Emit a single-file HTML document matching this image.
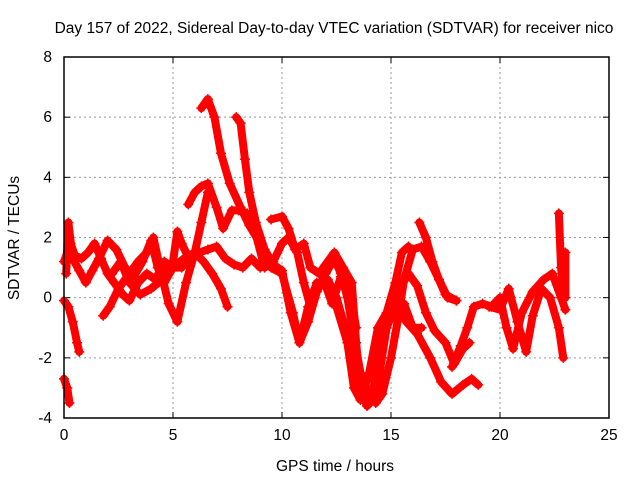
<!DOCTYPE html>
<html><head><meta charset="utf-8"><style>
body{margin:0;background:#fff}
svg{display:block;font-family:"Liberation Sans",sans-serif}
</style></head><body>
<svg id="chart" width="640" height="480">
<text x="334" y="33" font-size="15.5" text-anchor="middle">Day 157 of 2022, Sidereal Day-to-day VTEC variation (SDTVAR) for receiver nico</text>
<text x="335" y="471" font-size="15.5" text-anchor="middle">GPS time / hours</text>
<text transform="translate(19,238) rotate(-90)" font-size="15.5" text-anchor="middle">SDTVAR / TECUs</text>
<g id="grid"></g><g id="ticks"></g><g id="series"></g>
<rect x="64" y="57" width="545" height="361" fill="none" stroke="#000" stroke-width="1.5"/>
</svg>
<script>
const xTicks=[0,5,10,15,20,25];
const yTicks=[-4,-2,0,2,4,6,8];
const track1=[[0,-0.1],[0.2,-0.3],[0.4,-0.8],[0.6,-1.5],[0.7,-1.8]];
const track2=[[0,-2.7],[0.15,-3.0],[0.25,-3.5]];
const track3=[[6.3,6.3],[6.6,6.6],[6.9,6.0],[7.2,4.8],[7.6,3.8],[8.1,3.0],[8.5,2.4],[9.0,1.8],[9.5,1.0],[10.0,0.8],[10.5,-0.5],[10.8,-1.5],[11.2,-0.8],[11.6,0.2],[12.0,0.8],[12.4,1.3],[12.7,0.8],[13.0,0.0],[13.3,-1.3],[13.6,-2.5],[14.0,-3.2],[14.3,-3.5],[14.6,-3.2],[15.0,-2.0],[15.3,-0.8],[15.6,0.6],[16.0,1.6],[16.4,1.7],[16.8,1.2],[17.2,0.6],[17.6,0.0],[18.0,-0.1]];
const track4=[[7.9,6.0],[8.1,5.8],[8.3,4.6],[8.5,3.5],[8.8,2.5],[9.2,1.6],[9.6,1.1],[10.0,0.9],[10.4,-0.5],[10.8,-1.5],[11.2,-0.3],[11.6,0.5],[12.0,0.4],[12.3,-0.2],[12.7,0.7],[13.1,0.3],[13.4,-1.0]];
const track5=[[5.7,3.1],[6.0,3.5],[6.3,3.7],[6.6,3.8],[7.0,3.0],[7.3,2.3],[7.7,2.9],[8.0,2.9],[8.4,2.8],[8.8,2.1],[9.2,1.0],[9.6,1.2],[10.0,1.8],[10.3,2.0],[10.7,1.5],[11.0,0.5],[11.3,-0.3],[11.7,0.4],[12.1,0.6],[12.5,0.0],[12.9,-1.0],[13.2,-2.0],[13.5,-3.0],[13.8,-3.4],[14.2,-3.0],[14.6,-1.2],[15.0,-0.5],[15.4,0.3],[15.8,0.8],[16.2,0.4],[16.6,-0.5],[17.0,-1.1],[17.5,-1.5],[17.9,-2.2],[18.3,-1.7],[18.6,-1.5]];
const track6=[[0,1.2],[0.3,1.8],[0.5,1.4],[0.8,1.3],[1.1,1.5],[1.4,1.8],[1.7,1.3],[2.0,0.8],[2.3,0.5],[2.7,0.1],[3.0,-0.1],[3.4,0.5],[3.8,0.8],[4.2,0.6],[4.6,1.2],[5.0,1.0],[5.4,1.0],[5.8,1.4],[6.2,1.5],[6.6,1.6],[7.0,1.7],[7.4,1.3],[7.8,1.1],[8.2,1.0],[8.6,1.3],[9.0,1.0]];
const track7=[[0.1,0.8],[0.2,2.5],[0.4,1.3],[0.7,0.9],[1.0,0.5],[1.3,0.9],[1.6,1.3],[2.0,1.9],[2.4,1.6],[2.8,1.0],[3.2,0.7],[3.6,1.2],[4.0,1.9],[4.3,1.0],[4.6,0.5],[5.0,1.0],[5.5,1.3],[6.0,1.5],[6.4,1.2],[6.8,0.8],[7.2,0.3],[7.5,-0.3]];
const track8=[[1.8,-0.6],[2.1,-0.3],[2.5,0.3],[3.0,0.8],[3.4,1.2],[3.8,1.5],[4.1,2.0],[4.4,1.0],[4.8,-0.2],[5.2,-0.8],[5.6,0.5],[6.0,1.5],[6.3,2.5],[6.6,3.5]];
const track9=[[2.2,0.8],[2.6,1.2],[3.0,0.5],[3.5,0.1],[4.0,0.3],[4.5,0.6],[5.0,1.2],[5.2,2.2],[5.4,1.8],[5.8,1.2]];
const track10=[[9.5,2.6],[10.0,2.7],[10.3,2.3],[10.6,1.6],[11.0,1.8],[11.3,1.0],[11.7,0.8],[12.0,1.1],[12.4,1.5],[12.8,1.0],[13.2,0.5],[13.4,-1.5],[13.6,-3.0],[13.9,-3.6],[14.3,-3.3],[14.8,-1.0],[15.2,-0.3],[15.6,-0.2],[16.0,-1.0],[16.4,-1.0]];
const track11=[[12.0,0.5],[12.5,-0.3],[13.0,-1.5],[13.3,-3.0],[13.6,-3.4],[14.0,-2.5],[14.4,-1.0],[14.8,-0.5],[15.2,0.5],[15.5,1.5],[15.8,1.7]];
const track12=[[16.3,2.5],[16.6,2.0],[16.9,1.2],[17.2,0.6],[17.5,0.1],[18.0,-0.1]];
const track13=[[15.3,0.0],[15.7,-0.8],[16.2,-1.2],[16.8,-2.0],[17.3,-2.8],[17.8,-3.2],[18.3,-2.9],[18.7,-2.7],[19.0,-2.9]];
const track14=[[17.8,-2.3],[18.2,-1.6],[18.5,-1.0],[18.8,-0.3],[19.2,-0.2],[19.6,-0.3],[20.0,0.0],[20.3,-1.0],[20.6,-1.7],[21.0,-0.5],[21.5,0.2],[22.0,0.6],[22.4,0.8],[22.8,0.0],[23.0,-0.4]];
const track15=[[19.5,-0.3],[20.0,-0.4],[20.4,0.3],[20.8,-0.8],[21.2,-1.8],[21.5,-0.6],[21.9,0.3],[22.3,0.0],[22.7,-1.0],[22.9,-2.0]];
const track16=[[22.7,2.8],[22.8,1.0],[22.9,0.2],[23.0,1.5],[23.0,0.0]];
const tracks=[track1,track2,track3,track4,track5,track6,track7,track8,track9,track10,track11,track12,track13,track14,track15,track16];
const X0=64,X1=609,Y0=418,Y1=57,XMIN=0,XMAX=25,YMIN=-4,YMAX=8;
const sx=v=>X0+(v-XMIN)/(XMAX-XMIN)*(X1-X0);
const sy=v=>Y0-(v-YMIN)/(YMAX-YMIN)*(Y0-Y1);
const NS="http://www.w3.org/2000/svg";
const grid=document.getElementById('grid'),ticks=document.getElementById('ticks'),series=document.getElementById('series');
function mk(t,a,p){const e=document.createElementNS(NS,t);for(const k in a)e.setAttribute(k,a[k]);p.appendChild(e);return e;}
xTicks.forEach(v=>{const x=sx(v);
 if(v>XMIN&&v<XMAX){const g=mk('line',{x1:x,x2:x,y1:Y1,y2:Y0,stroke:'#999','stroke-dasharray':'2,3'},grid);
 
 }
 mk('line',{x1:x,x2:x,y1:Y0,y2:Y0-6,stroke:'#000'},ticks);mk('line',{x1:x,x2:x,y1:Y1,y2:Y1+6,stroke:'#000'},ticks);
 const t=mk('text',{x:x,y:Y0+22,'font-size':15.5,'text-anchor':'middle'},ticks);t.textContent=v;
 
 });
yTicks.forEach(v=>{const y=sy(v);
 if(v>YMIN&&v<YMAX){const g=mk('line',{x1:X0,x2:X1,y1:y,y2:y,stroke:'#999','stroke-dasharray':'2,3'},grid);
 
 }
 mk('line',{x1:X0,x2:X0+6,y1:y,y2:y,stroke:'#000'},ticks);mk('line',{x1:X1,x2:X1-6,y1:y,y2:y,stroke:'#000'},ticks);
 const t=mk('text',{x:X0-12,y:y+5,'font-size':15.5,'text-anchor':'end'},ticks);t.textContent=v;
 
 });
tracks.forEach(tr=>{
 const pts=tr.map(p=>sx(p[0])+','+sy(p[1])).join(' ');
 const pl=mk('polyline',{points:pts,fill:'none',stroke:'#f00','stroke-width':8,'stroke-linejoin':'round','stroke-linecap':'round'},series);
 
 
 tr.forEach(p=>{const x=sx(p[0]),y=sy(p[1]);
  const m=mk('path',{d:`M${x-5},${y}H${x+5}M${x},${y-5}V${y+5}`,stroke:'#f00','stroke-width':1.5},series);
  
  });
});
</script>
</body></html>
